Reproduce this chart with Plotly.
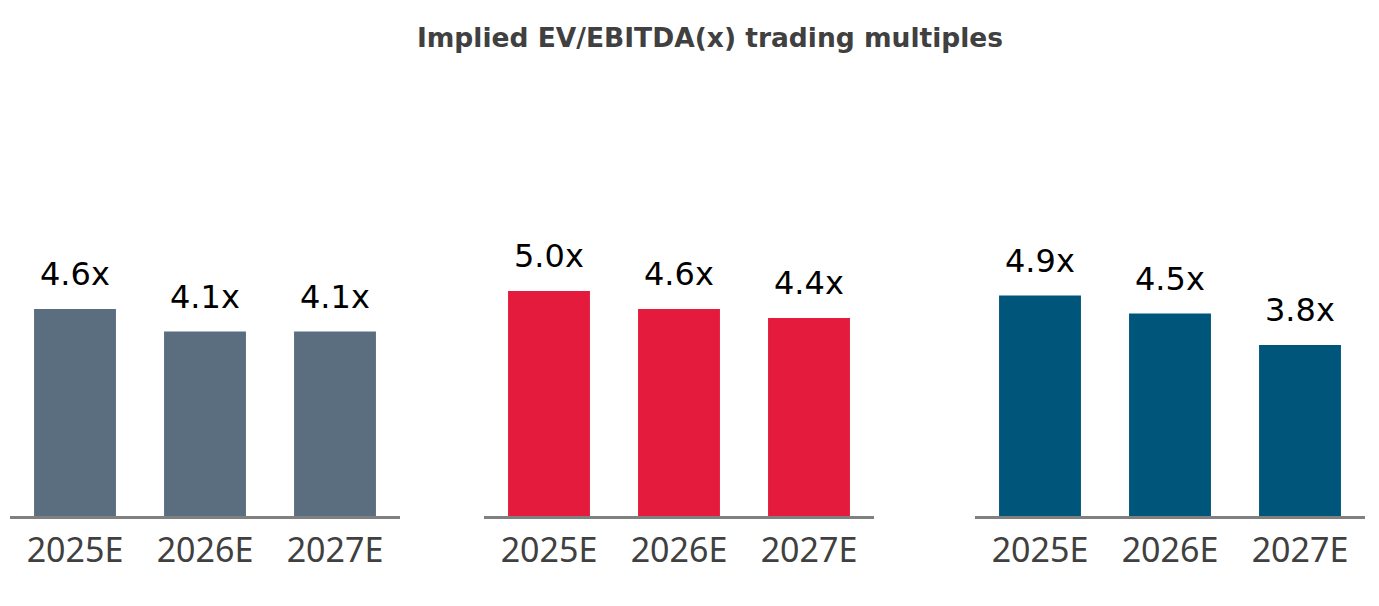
import plotly.graph_objects as go

categories = ["2025E", "2026E", "2027E"]
series_a = [4.6, 4.1, 4.1]
series_b = [5.0, 4.6, 4.4]
series_c = [4.9, 4.5, 3.8]
labels_a = ["4.6x", "4.1x", "4.1x"]
labels_b = ["5.0x", "4.6x", "4.4x"]
labels_c = ["4.9x", "4.5x", "3.8x"]
title_text = "Implied EV/EBITDA(x) trading multiples"

W, H = 1379, 606
OFF = 8  # page body margin
colors = ["#5B6E7F", "#E41B3C", "#00557A"]
domains_px = [(10 - OFF, 400 - OFF), (484 - OFF, 874 - OFF), (975 - OFF, 1365 - OFF)]
plot_top, plot_bottom = 100 - OFF, 516 - OFF
px_per_unit = 45.0
ymax = (plot_bottom - plot_top) / px_per_unit

fig = go.Figure()
series = [series_a, series_b, series_c]
labels = [labels_a, labels_b, labels_c]
axnames = ["x", "x2", "x3"]
for i in range(3):
    fig.add_trace(go.Bar(x=categories, y=series[i], marker_color=colors[i],
                         marker_line_width=0, xaxis=axnames[i], yaxis="y",
                         hoverinfo="skip"))
    for c, v, t in zip(categories, series[i], labels[i]):
        fig.add_annotation(x=c, y=v, xref=axnames[i], yref="y", text=t,
                           showarrow=False, yanchor="bottom", yshift=14,
                           font=dict(family="DejaVu Sans", size=32, color="#000000"))

layout_axes = {}
for i, (a, b) in enumerate(domains_px):
    key = "xaxis" if i == 0 else f"xaxis{i+1}"
    layout_axes[key] = dict(
        domain=[a / W, b / W], anchor="y", range=[-0.5, 2.5],
        showline=True, linecolor="#808080", linewidth=3,
        showgrid=False, zeroline=False, ticks="",
        tickfont=dict(family="Noto Sans", size=34, color="#404040"),
        ticklabelstandoff=2, fixedrange=True,
    )

fig.update_layout(
    width=W, height=H,
    margin=dict(l=0, r=0, t=plot_top, b=H - plot_bottom),
    paper_bgcolor="white", plot_bgcolor="white",
    showlegend=False, bargap=0.37,
    yaxis=dict(range=[0, ymax], visible=False, fixedrange=True),
    title=dict(text=f"<b>{title_text}</b>", x=(710 - OFF) / W, xanchor="center",
               xref="paper", yref="container", y=1 - (38 - OFF) / H, yanchor="middle",
               font=dict(family="DejaVu Sans", size=26.5, color="#404040")),
    **layout_axes,
)

fig.write_html("out.html")
